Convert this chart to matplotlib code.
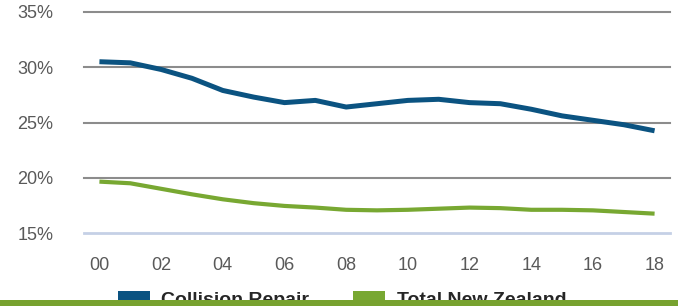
import matplotlib
matplotlib.use("Agg")
import matplotlib.pyplot as plt
from matplotlib.patches import Patch, Rectangle

years = list(range(0, 19))
year_labels = ["00", "02", "04", "06", "08", "10", "12", "14", "16", "18"]
collision_repair = [30.5, 30.4, 29.8, 29.0, 27.9, 27.3, 26.8, 27.0, 26.4, 26.7,
                    27.0, 27.1, 26.8, 26.7, 26.2, 25.6, 25.2, 24.8, 24.25]
total_nz = [19.65, 19.5, 19.0, 18.5, 18.05, 17.7, 17.45, 17.3, 17.1, 17.05,
            17.1, 17.2, 17.3, 17.25, 17.1, 17.1, 17.05, 16.9, 16.75]
series_names = ["Collision Repair", "Total New Zealand"]
y_ticks = [15, 20, 25, 30, 35]

blue = "#0b5381"
green = "#78a832"
bar_green = "#77a22f"

plt.rcParams['font.family'] = ['Liberation Sans', 'DejaVu Sans']

fig = plt.figure(figsize=(6.78, 3.06), dpi=100)
ax = fig.add_axes([84/678, (306-233)/306, (670-84)/678, (233-12)/306])

ax.plot(years, collision_repair, color=blue, lw=3.6, solid_capstyle='butt',
        solid_joinstyle='round', zorder=3)
ax.plot(years, total_nz, color=green, lw=3.0, solid_capstyle='butt',
        solid_joinstyle='round', zorder=3)

ax.set_xlim(-0.5, 18.5)
ax.set_ylim(15, 35)
ax.set_yticks(y_ticks)
ax.set_yticklabels([f"{v}%" for v in y_ticks])
ax.set_xticks(years[::2])
ax.set_xticklabels(year_labels)

for v in y_ticks[1:]:
    ax.axhline(v, color="#8c8c8c", lw=1.5, zorder=1, clip_on=False)

for s in ["top", "right", "left"]:
    ax.spines[s].set_visible(False)
ax.spines["bottom"].set_color("#c5d0e6")
ax.spines["bottom"].set_linewidth(2)

ax.tick_params(axis='both', length=0, labelsize=13, labelcolor="#595959")
ax.tick_params(axis='y', pad=22)
ax.tick_params(axis='x', pad=17)

handles = [Patch(facecolor=blue, edgecolor='none'),
           Patch(facecolor=green, edgecolor='none')]
leg = fig.legend(handles, series_names, loc='center left',
                 bbox_to_anchor=(100/678, (306-300)/306), ncol=2, frameon=False,
                 prop={'weight': 'bold', 'size': 14}, handlelength=1.65,
                 handleheight=0.8, columnspacing=2.3, handletextpad=0.57)
for t in leg.get_texts():
    t.set_color("#262626")

fig.patches.append(Rectangle((0, 0), 1, 6.5/306, transform=fig.transFigure,
                             facecolor=bar_green, edgecolor='none', zorder=20))

fig.savefig("out.png", dpi=100)
